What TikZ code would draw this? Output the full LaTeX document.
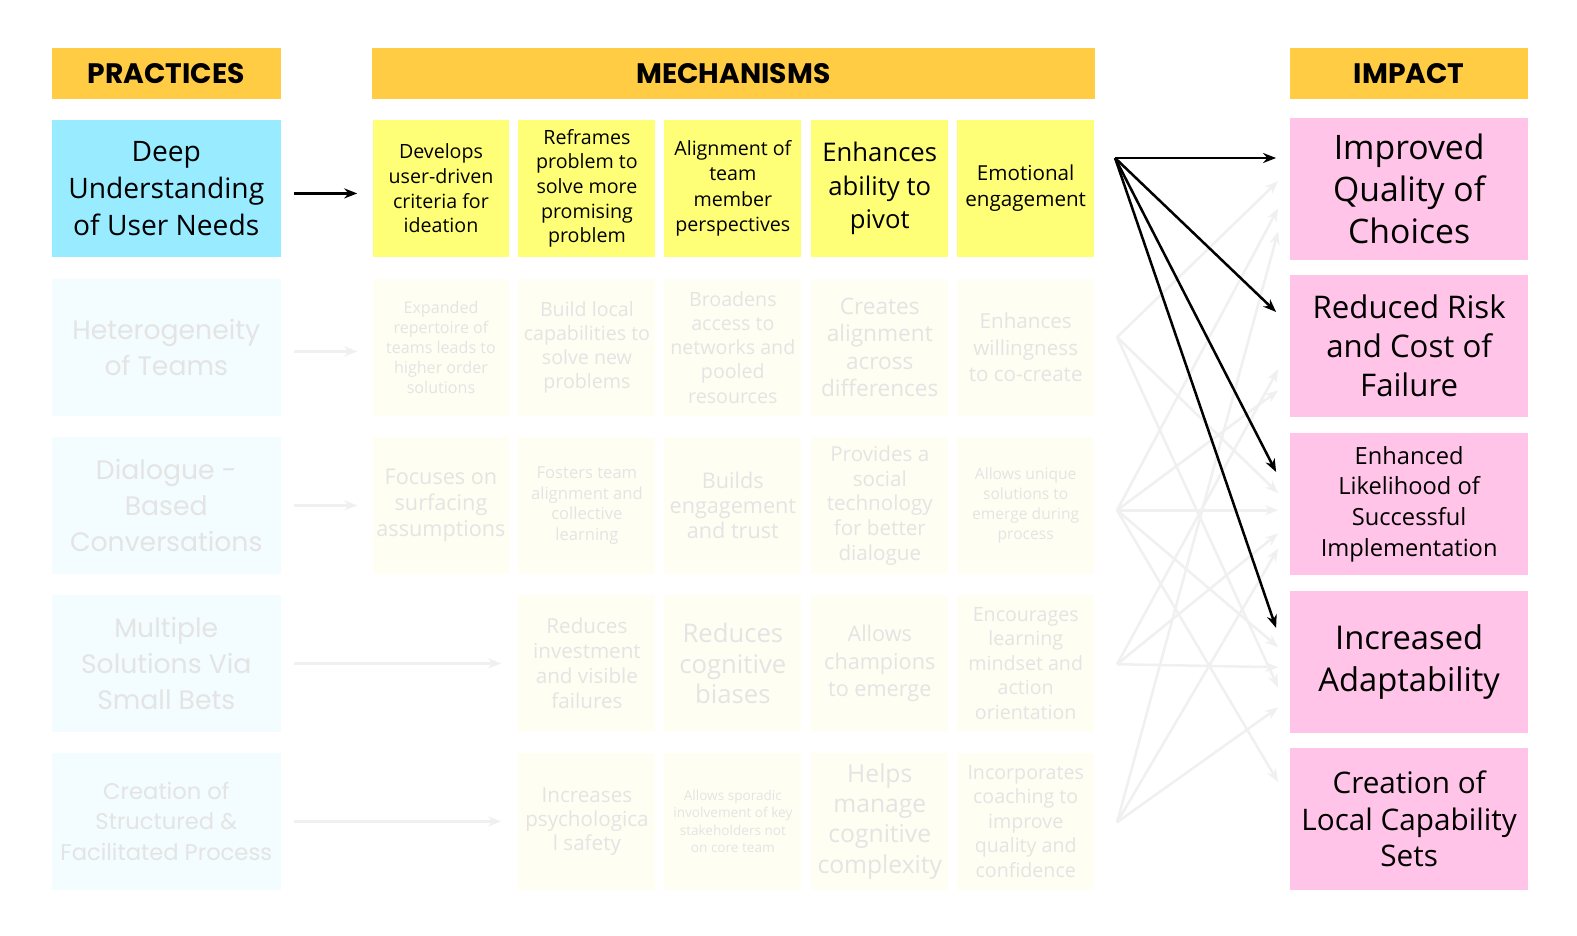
\documentclass[tikz,border=0pt]{standalone}
\usepackage{fontspec}
\setmainfont{Open Sans}
\newfontfamily\headfont{Poppins}
\usetikzlibrary{arrows.meta}
\definecolor{headyellow}{HTML}{FFCC44}
\definecolor{practicecyan}{HTML}{99ECFF}
\definecolor{practicepale}{HTML}{F3FCFE}
\definecolor{mechyellow}{HTML}{FFFF77}
\definecolor{mechpale}{HTML}{FEFEF2}
\definecolor{impactpink}{HTML}{FFC4E8}
\definecolor{fadetext}{HTML}{E4E4E4}
\definecolor{fadeline}{HTML}{F0F0F0}
\newcommand{\fs}[2]{\fontsize{#1bp}{#2bp}\selectfont}

\begin{document}
\begin{tikzpicture}[x=1bp,y=-1bp,
    every node/.style={inner sep=0pt, align=center, anchor=north west},
    header/.style={fill=headyellow, minimum height=51bp, font=\headfont\fs{28}{32}\bfseries},
    practice/.style={fill=practicecyan, minimum width=228bp, minimum height=136bp},
    practicefade/.style={fill=practicepale, text=fadetext, minimum width=228bp, minimum height=136bp},
    mech/.style={fill=mechyellow, minimum width=136bp, minimum height=136bp},
    mechfade/.style={fill=mechpale, text=fadetext, minimum width=136bp, minimum height=136bp},
    impact/.style={fill=impactpink, minimum width=236bp, minimum height=141bp},
    linkarrow/.style={line width=2.5bp, -{Stealth[length=13bp,width=10bp]}},
    fadearrow/.style={linkarrow, draw=fadeline, fill=fadeline}]
    \useasboundingbox (0,0) rectangle (1567,930);
    \fill[white] (0,0) rectangle (1567,930);

    % headers
    \node[header, minimum width=228bp] (hprac) at (51,47) {PRACTICES};
    \node[header, minimum width=719bp] (hmech) at (369,47) {MECHANISMS};
    \node[header, minimum width=236bp] (himp) at (1282,47) {IMPACT};

    % practices
    \node[practice, font=\fs{28}{36.5}] (p1) at (51,119) {Deep\\Understanding\\of User Needs};
    \node[practicefade, font=\headfont\fs{26.5}{36}] (p2) at (51,277) {Heterogeneity\\of Teams};
    \node[practicefade, font=\headfont\fs{26.5}{36}] (p3) at (51,434) {Dialogue -\\Based\\Conversations};
    \node[practicefade, font=\headfont\fs{26.5}{36}] (p4) at (51,591) {Multiple\\Solutions Via\\Small Bets};
    \node[practicefade, font=\headfont\fs{22.5}{30}] (p5) at (51,748) {Creation of\\Structured \&\\Facilitated Process};

    % mechanisms, row 1
    \node[mech, font=\fs{19.5}{24.5}] (m11) at (370,119) {Develops\\user-driven\\criteria for\\ideation};
    \node[mech, font=\fs{19.5}{24.5}] (m12) at (515,119) {Reframes\\problem to\\solve more\\promising\\problem};
    \node[mech, font=\fs{19.5}{25}] (m13) at (660,119) {Alignment of\\team\\member\\perspectives};
    \node[mech, font=\fs{25.5}{33.5}] (m14) at (806,119) {Enhances\\ability to\\pivot};
    \node[mech, font=\fs{20.5}{26}] (m15) at (951,119) {Emotional\\engagement};
    % row 2
    \node[mechfade, font=\fs{16}{20}] (m21) at (370,277) {Expanded\\repertoire of\\teams leads to\\higher order\\solutions};
    \node[mechfade, font=\fs{19.5}{24}] (m22) at (515,277) {Build local\\capabilities to\\solve new\\problems};
    \node[mechfade, font=\fs{19.5}{24}] (m23) at (660,277) {Broadens\\access to\\networks and\\pooled\\resources};
    \node[mechfade, font=\fs{22.5}{27}] (m24) at (806,277) {Creates\\alignment\\across\\differences};
    \node[mechfade, font=\fs{20.5}{26}] (m25) at (951,277) {Enhances\\willingness\\to co-create};
    % row 3
    \node[mechfade, font=\fs{21.5}{25.5}] (m31) at (370,434) {Focuses on\\surfacing\\assumptions};
    \node[mechfade, font=\fs{16.5}{20.5}] (m32) at (515,434) {Fosters team\\alignment and\\collective\\learning};
    \node[mechfade, font=\fs{21.5}{25}] (m33) at (660,434) {Builds\\engagement\\and trust};
    \node[mechfade, font=\fs{20.5}{24.5}] (m34) at (806,434) {Provides a\\social\\technology\\for better\\dialogue};
    \node[mechfade, font=\fs{15.5}{20}] (m35) at (951,434) {Allows unique\\solutions to\\emerge during\\process};
    % row 4
    \node[mechfade, font=\fs{20.5}{25}] (m42) at (515,591) {Reduces\\investment\\and visible\\failures};
    \node[mechfade, font=\fs{25.5}{30.5}] (m43) at (660,591) {Reduces\\cognitive\\biases};
    \node[mechfade, font=\fs{21.5}{27}] (m44) at (806,591) {Allows\\champions\\to emerge};
    \node[mechfade, font=\fs{19.5}{24.5}] (m45) at (951,591) {Encourages\\learning\\mindset and\\action\\orientation};
    % row 5
    \node[mechfade, font=\fs{20.5}{24}] (m52) at (515,748) {Increases\\psychologica\\l safety};
    \node[mechfade, font=\fs{13.5}{17}] (m53) at (660,748) {Allows sporadic\\involvement of key\\stakeholders not\\on core team};
    \node[mechfade, font=\fs{24.5}{30}] (m54) at (806,748) {Helps\\manage\\cognitive\\complexity};
    \node[mechfade, font=\fs{19.5}{24.5}] (m55) at (951,748) {Incorporates\\coaching to\\improve\\quality and\\confidence};

    % impacts
    \node[impact, font=\fs{33.5}{42}] (i1) at (1282,117) {Improved\\Quality of\\Choices};
    \node[impact, font=\fs{31}{39}] (i2) at (1282,273) {Reduced Risk\\and Cost of\\Failure};
    \node[impact, font=\fs{23.5}{30.5}] (i3) at (1282,430) {Enhanced\\Likelihood of\\Successful\\Implementation};
    \node[impact, font=\fs{32.5}{42}] (i4) at (1282,587) {Increased\\Adaptability};
    \node[impact, font=\fs{29.5}{36}] (i5) at (1282,743) {Creation of\\Local Capability\\Sets};

    % practice -> mechanism arrows
    \draw[fadearrow, shorten <=13bp, shorten >=15bp] ([yshift=-4bp]p2.east) -- ([yshift=-4bp]m21.west);
    \draw[fadearrow, shorten <=13bp, shorten >=15bp] (p3.east) -- (m31.west);
    \draw[fadearrow, shorten <=13bp, shorten >=17bp] (p4.east) -- (m42.west);
    \draw[fadearrow, shorten <=13bp, shorten >=17bp] (p5.east) -- (m52.west);
    \draw[linkarrow, shorten <=13bp, shorten >=15bp] ([yshift=-5bp]p1.east) -- ([yshift=-5bp]m11.west);

    % mechanism -> impact arrows
    \coordinate (s1) at (1108,157);
    \coordinate (s2) at (1110,335);
    \coordinate (s3) at (1110,507);
    \coordinate (s4) at (1110,660);
    \coordinate (s5) at (1110,817);
    \coordinate (t11) at (1268,157);
    \coordinate (t12) at (1270,180);
    \coordinate (t13) at (1270,207);
    \coordinate (t14) at (1270,230);
    \coordinate (t21) at (1268,310);
    \coordinate (t22) at (1270,367);
    \coordinate (t23) at (1270,388);
    \coordinate (t31) at (1268,469);
    \coordinate (t32) at (1270,490);
    \coordinate (t33) at (1270,507);
    \coordinate (t34) at (1270,530);
    \coordinate (t35) at (1270,545);
    \coordinate (t41) at (1268,624);
    \coordinate (t42) at (1270,643);
    \coordinate (t43) at (1270,663);
    \coordinate (t44) at (1270,683);
    \coordinate (t45) at (1270,703);
    \coordinate (t51) at (1270,777);
    \draw[fadearrow] (s2) -- (t12);
    \draw[fadearrow] (s2) -- (t32);
    \draw[fadearrow] (s2) -- (t44);
    \draw[fadearrow] (s3) -- (t13);
    \draw[fadearrow] (s3) -- (t23);
    \draw[fadearrow] (s3) -- (t33);
    \draw[fadearrow] (s3) -- (t42);
    \draw[fadearrow] (s3) -- (t51);
    \draw[fadearrow] (s4) -- (t22);
    \draw[fadearrow] (s4) -- (t34);
    \draw[fadearrow] (s4) -- (t43);
    \draw[fadearrow] (s5) -- (t14);
    \draw[fadearrow] (s5) -- (t35);
    \draw[fadearrow] (s5) -- (t45);
    \draw[linkarrow] (s1) -- (t11);
    \draw[linkarrow] (s1) -- (t21);
    \draw[linkarrow] (s1) -- (t31);
    \draw[linkarrow] (s1) -- (t41);
\end{tikzpicture}
\end{document}
